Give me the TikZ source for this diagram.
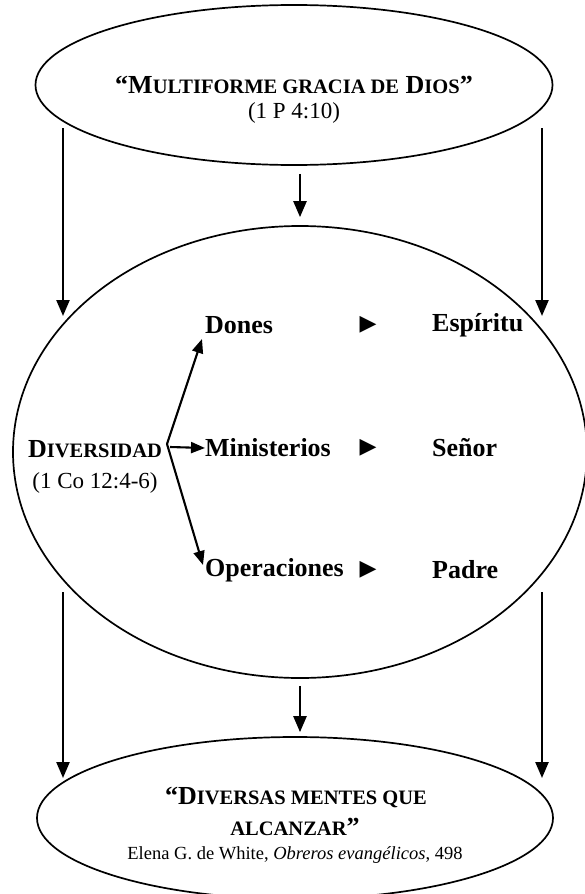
\documentclass[tikz,border=0pt]{standalone}
\usepackage{fontspec}
\setmainfont{Liberation Serif}
\newfontfamily\symf{DejaVu Sans}
\usetikzlibrary{shapes.geometric,arrows.meta,calc}
\newcommand{\smc}[1]{{\fontsize{20.5}{22}\selectfont #1}}
\begin{document}
\begin{tikzpicture}[x=1pt,y=-1pt,
  oval/.style={draw, ellipse, inner sep=0pt, line width=1.7pt},
  bigarr/.style={line width=2.4pt, -{Triangle[length=16pt,width=13pt]}},
  smallarr/.style={line width=2.1pt, -{Triangle[length=14pt,width=11pt]}},
  lab/.style={inner sep=0pt, font=\fontsize{26}{29}\selectfont\bfseries},
  reg/.style={inner sep=0pt, font=\fontsize{23}{26}\selectfont},
  tri/.style={inner sep=0pt, font=\symf\fontsize{22}{24}\selectfont}]
\useasboundingbox (0,0) rectangle (584,894);
% ellipses
\node[oval, minimum width=517pt, minimum height=160pt] (top) at (294,85) {};
\node[oval, minimum width=574pt, minimum height=452pt] (mid) at (300,452) {};
\node[oval, minimum width=516pt, minimum height=162pt] (bot) at (295,818) {};
% top texts
\node[lab] (t1) at (294,85) {“M\smc{ULTIFORME GRACIA DE} D\smc{IOS}”};
\node[reg] (t2) at (294,113) {(1 P 4:10)};
% bottom texts
\node[lab] (b1) at (296,798) {“D\smc{IVERSAS MENTES QUE}};
\node[lab] (b2) at (295,827) {\smc{ALCANZAR}”};
\node[inner sep=0pt, font=\fontsize{18.5}{21}\selectfont] (b3) at (295,855) {Elena G. de White, \textit{Obreros evangélicos}, 498};
% middle texts
\node[lab] (div) at (95,449) {D\smc{IVERSIDAD}};
\node[reg] (divref) at (95,483) {(1 Co 12:4-6)};
\node[lab, anchor=west] (don) at (205,325) {Dones};
\node[lab, anchor=west] (min) at (205,448) {Ministerios};
\node[lab, anchor=west] (ope) at (205,570) {Operaciones};
\node[tri] (a1) at (368,325) {▶};
\node[tri] (a2) at (368,448) {▶};
\node[tri] (a3) at (368,570) {▶};
\node[lab, anchor=west] (esp) at (432,325) {Espíritu};
\node[lab, anchor=west] (sen) at (432,448) {Señor};
\node[lab, anchor=west] (pad) at (432,570) {Padre};
% diversidad arrows
\coordinate (o) at (167,444);
\coordinate (oh) at (170,447);
\coordinate (donT) at (202,339);
\coordinate (opeT) at (203,565);
\draw[smallarr] (o) -- (donT);
\draw[smallarr] (oh) -- (min.west);
\draw[smallarr] (o) -- (opeT);
% vertical arrows
\coordinate (l1s) at (63,128); \coordinate (l1e) at (63,316);
\coordinate (r1s) at (542,128); \coordinate (r1e) at (542,316);
\coordinate (l2s) at (63,592); \coordinate (l2e) at (63,778);
\coordinate (r2s) at (542,592); \coordinate (r2e) at (542,778);
\draw[bigarr] (l1s) -- (l1e);
\draw[bigarr] (r1s) -- (r1e);
\draw[bigarr] (l2s) -- (l2e);
\draw[bigarr] (r2s) -- (r2e);
\draw[bigarr] ($(mid.north |- top.south)+(0,8)$) -- ($(mid.north)+(0,-8)$);
\draw[bigarr] ($(mid.south)+(0,7)$) -- ($(bot.north -| mid.south)+(0,-4)$);
\end{tikzpicture}
\end{document}
